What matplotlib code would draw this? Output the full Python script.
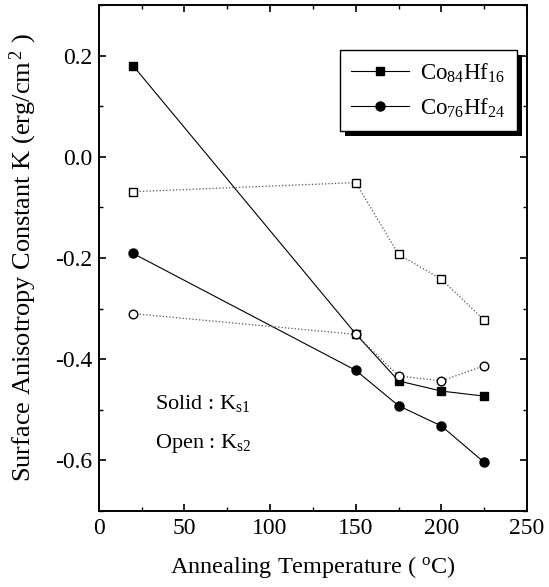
import matplotlib
matplotlib.use("Agg")
import matplotlib.pyplot as plt
from matplotlib.patches import Rectangle
from matplotlib.ticker import MultipleLocator

plt.rcParams['font.family'] = ['Liberation Serif', 'DejaVu Serif']
plt.rcParams['mathtext.fontset'] = 'custom'
plt.rcParams['mathtext.rm'] = 'Liberation Serif'
plt.rcParams['mathtext.it'] = 'Liberation Serif:italic'
plt.rcParams['axes.unicode_minus'] = False

# Data
temps = [20, 150, 175, 200, 225]
co84_solid = [0.18, -0.35, -0.443, -0.463, -0.473]   # K_s1, Co84Hf16
co84_open = [-0.069, -0.051, -0.193, -0.242, -0.323]  # K_s2, Co84Hf16
co76_solid = [-0.191, -0.422, -0.492, -0.532, -0.604] # K_s1, Co76Hf24
co76_open = [-0.310, -0.351, -0.433, -0.443, -0.413]  # K_s2, Co76Hf24
legend_labels = ["Co$_{84}$Hf$_{16}$", "Co$_{76}$Hf$_{24}$"]
xticks = [0, 50, 100, 150, 200, 250]
yticks = [0.2, 0.0, -0.2, -0.4, -0.6]

fig = plt.figure(figsize=(5.49, 5.87), dpi=100)
ax = fig.add_axes([0.180, 0.1295, 0.780, 0.862])

ax.plot(temps, co84_open, linestyle=':', color='#555555', lw=0.9,
        marker='s', ms=5.5, mfc='white', mec='black', mew=1.0, zorder=3)
ax.plot(temps, co76_open, linestyle=':', color='#555555', lw=0.9,
        marker='o', ms=6.2, mfc='white', mec='black', mew=1.0, zorder=3)
ax.plot(temps, co84_solid, linestyle='-', color='black', lw=0.8,
        marker='s', ms=5.5, mfc='black', mec='black', label=legend_labels[0], zorder=2)
ax.plot(temps, co76_solid, linestyle='-', color='black', lw=0.8,
        marker='o', ms=6.5, mfc='black', mec='black', label=legend_labels[1], zorder=2)

ax.set_xlim(0, 250)
ax.set_ylim(-0.7, 0.3)
ax.set_xticks(xticks)
ax.set_yticks(yticks)
ax.set_yticklabels([f"{v:.1f}" for v in yticks])
ax.xaxis.set_minor_locator(MultipleLocator(25))
ax.yaxis.set_minor_locator(MultipleLocator(0.1))
ax.tick_params(which='both', direction='in', top=True, right=True, labelsize=17, pad=5)
ax.tick_params(which='major', length=5, width=1.2)
ax.tick_params(which='minor', length=3, width=1.0)
for s in ax.spines.values():
    s.set_linewidth(1.4)

ax.set_xlabel("Annealing Temperature ( $^{\\rm o}$C)", fontsize=17.5, labelpad=11)
ax.set_ylabel("Surface Anisotropy Constant K (erg/cm$^{\\,2}$ )", fontsize=19, labelpad=11)

ax.text(33, -0.488, "Solid : K$_{\\rm s1}$", fontsize=16, va='center', ha='left')
ax.text(33, -0.567, "Open : K$_{\\rm s2}$", fontsize=16, va='center', ha='left')

leg = ax.legend(loc='upper right', bbox_to_anchor=(0.977, 0.911), borderaxespad=0,
                fontsize=16.5, frameon=True, fancybox=False, handlelength=2.5,
                handletextpad=0.5, borderpad=0.5, labelspacing=0.5, framealpha=1)
leg.get_frame().set_edgecolor('black')
leg.get_frame().set_facecolor('white')
leg.get_frame().set_linewidth(1.0)
leg.set_zorder(10)

fig.canvas.draw()
bb = leg.get_window_extent()
off = 5
shadow = Rectangle((bb.x0 + off, bb.y0 - off), bb.width, bb.height,
                   transform=None, facecolor='black', edgecolor='none', zorder=9)
ax.add_artist(shadow)

fig.savefig("out.png", dpi=100)
